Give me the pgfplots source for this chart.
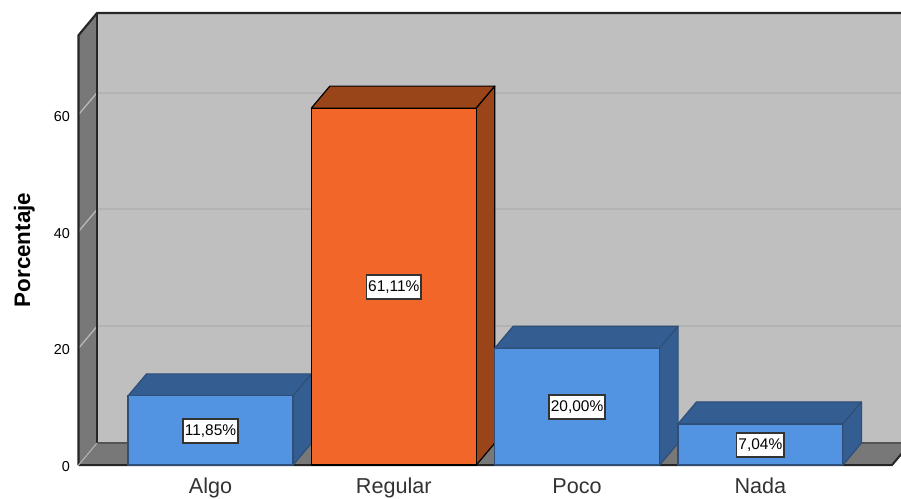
\documentclass[border=0pt]{standalone}
\usepackage{fontspec}
\setmainfont{Liberation Sans}
\usepackage{pgfplots}
\usepackage{pgfplotstable}
\pgfplotsset{compat=1.18}

\definecolor{wallback}{HTML}{BFBFBF}
\definecolor{wallside}{HTML}{787878}
\definecolor{gridback}{HTML}{B3B3B3}
\definecolor{gridside}{HTML}{B8B8B8}
\definecolor{frameline}{HTML}{262626}
\definecolor{barblue}{HTML}{5294E2}
\definecolor{barbluedark}{HTML}{345E92}
\definecolor{edgeblue}{HTML}{2F4F78}
\definecolor{barorange}{HTML}{F3662A}
\definecolor{barorangedark}{HTML}{9A4419}
\definecolor{labeltext}{HTML}{333333}

% Percentage per category: position, height, printed value
\pgfplotstableread{
pos value text
0 11.85 11,85
1 61.11 61,11
2 20.00 20,00
3 7.04 7,04
}\percentages

% Oblique offset of the depth axis and half the width of a bar, in axis units
\newcommand{\dx}{0.101}
\newcommand{\dy}{3.767}
\newcommand{\hw}{0.45}

% One box: front face, top face, right face
\newcommand{\boxbar}[5]{%
  \addplot[draw=#5, line width=0.9pt, fill=#4, line join=round] coordinates
    {(#1-\hw,#2) (#1+\hw,#2) (#1+\hw+\dx,#2+\dy) (#1-\hw+\dx,#2+\dy)} -- cycle;
  \addplot[draw=#5, line width=0.9pt, fill=#4, line join=round] coordinates
    {(#1+\hw,0) (#1+\hw+\dx,\dy) (#1+\hw+\dx,#2+\dy) (#1+\hw,#2)} -- cycle;
  \addplot[draw=#5, line width=0.9pt, fill=#3, line join=round] coordinates
    {(#1-\hw,0) (#1+\hw,0) (#1+\hw,#2) (#1-\hw,#2)} -- cycle;
}

% One gridline running along the side wall and the back wall
\newcommand{\gridlevel}[1]{%
  \addplot[draw=gridside, line width=1pt] coordinates {(-0.72,#1) (-0.619,#1+\dy)};
  \addplot[draw=gridback, line width=1.5pt] coordinates {(-0.619,#1+\dy) (3.82,#1+\dy)};
}

\begin{document}
\begin{tikzpicture}
\path[use as bounding box] (0,0) rectangle (675.75pt,374.25pt);
\begin{axis}[
  at={(57pt,23.25pt)}, anchor=south west,
  scale only axis,
  width=618.75pt, height=343.875pt,
  xmin=-0.7338, xmax=3.767,
  ymin=-0.5, ymax=78,
  axis line style={draw=none},
  major tick length=0pt,
  xtick={0,1,2,3},
  xticklabels={Algo,Regular,Poco,Nada},
  ytick={0,20,40,60},
  /pgf/number format/assume math mode=true,
  xticklabel style={font=\fontsize{16.2pt}{18pt}\selectfont, text=labeltext, text height=12pt, text depth=3.5pt, yshift=-3.5pt},
  yticklabel style={font=\fontsize{10.8pt}{12pt}\selectfont, text=black, xshift=-1pt, yshift=-1.3pt},
  every axis y label/.style={at={(axis description cs:-0.0625,0.4755)}, rotate=90, anchor=center},
  ylabel={\fontsize{16.8pt}{18pt}\selectfont\bfseries Porcentaje},
]
  % back wall, side wall, floor
  \addplot[draw=none, fill=wallback] coordinates {(-0.619,\dy) (3.82,\dy) (3.82,77.4) (-0.619,77.4)} -- cycle;
  \addplot[draw=none, fill=wallside] coordinates {(-0.72,0) (-0.619,\dy) (-0.619,77.4) (-0.72,73.6)} -- cycle;
  \addplot[draw=none, fill=wallside] coordinates {(-0.72,0) (3.718,0) (3.819,\dy) (-0.619,\dy)} -- cycle;
  \gridlevel{20}
  \gridlevel{40}
  \gridlevel{60}
  % frame lines
  \addplot[draw=frameline, line width=1.6pt, line join=round] coordinates {(-0.72,0) (-0.72,73.6) (-0.619,77.4) (3.82,77.4)};
  \addplot[draw=frameline, line width=1.4pt] coordinates {(-0.619,\dy) (-0.619,77.4)};
  \addplot[draw=wallside!70!black, line width=0.9pt] coordinates {(-0.619,\dy) (3.82,\dy)};
  \addplot[draw=frameline, line width=1.5pt, line join=round] coordinates {(-0.72,0) (3.718,0) (3.819,\dy)};
  \addplot[draw=gridside, line width=0.7pt] coordinates {(-0.72,0) (-0.619,\dy)};
  % bars
  \boxbar{0}{11.85}{barblue}{barbluedark}{edgeblue}
  \boxbar{1}{61.11}{barorange}{barorangedark}{black}
  \boxbar{2}{20.00}{barblue}{barbluedark}{edgeblue}
  \boxbar{3}{7.04}{barblue}{barbluedark}{edgeblue}
  % value labels at half the bar height
  \addplot[
    draw=none, mark=none,
    point meta=explicit symbolic,
    nodes near coords={\pgfplotspointmeta\%},
    every node near coord/.append style={
      anchor=center, fill=white, draw=labeltext, line width=1.1pt,
      text=black, font=\fontsize{11.6pt}{13pt}\selectfont,
      inner xsep=1.3pt, inner ysep=0pt, minimum height=18pt, yshift=-0.3pt,
    },
  ] table[x=pos, y expr=\thisrow{value}/2, meta=text] {\percentages};
\end{axis}
\end{tikzpicture}
\end{document}
